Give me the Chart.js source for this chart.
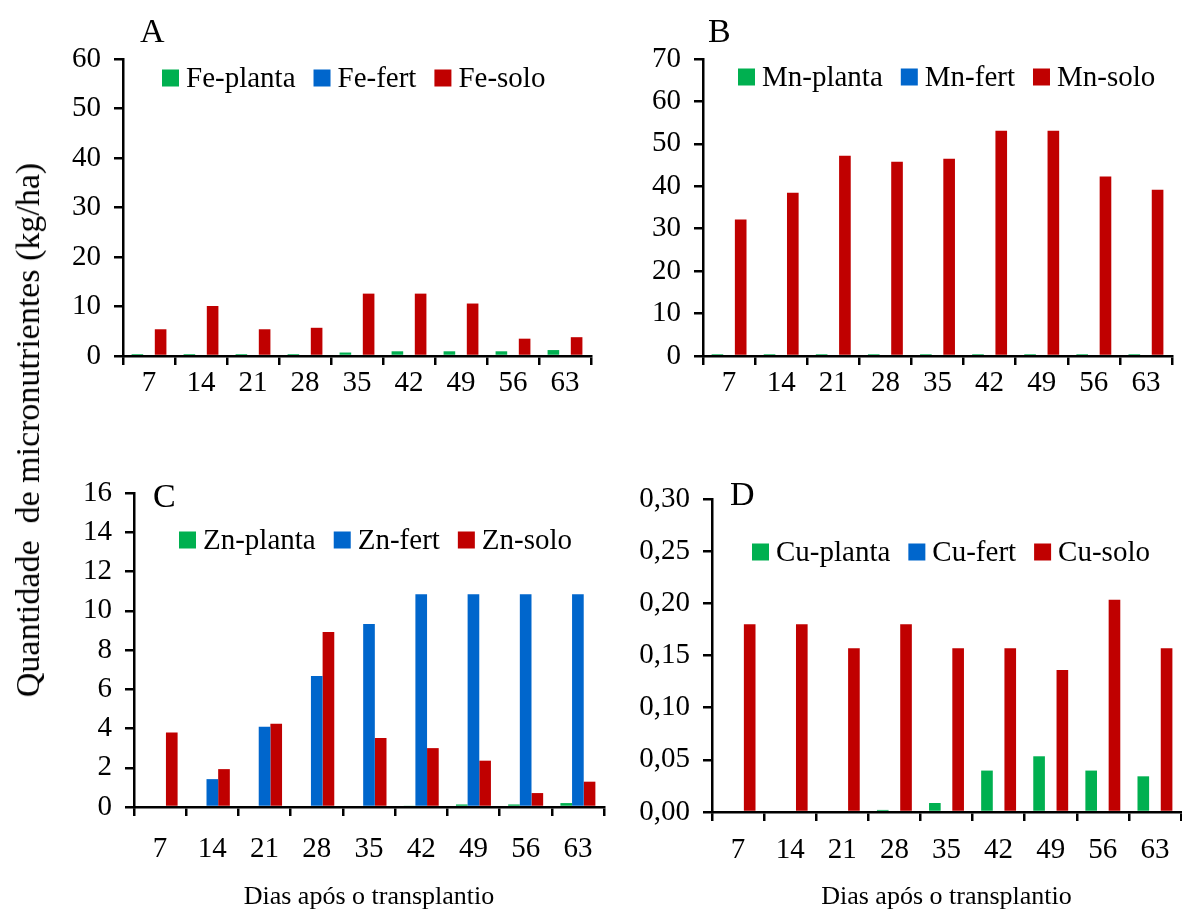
<!DOCTYPE html>
<html lang="pt">
<head>
<meta charset="utf-8">
<title>Micronutrientes</title>
<script src="https://cdn.jsdelivr.net/npm/chart.js@4.4.1/dist/chart.umd.min.js"></script>
<style>
  html, body { margin: 0; padding: 0; background: #fff; }
  #wrap { position: relative; width: 1182px; height: 916px; overflow: hidden; font-family: 'Liberation Serif', serif; }
  .panel { position: absolute; }
  #ytitle {
    position: absolute; left: 28px; top: 430px;
    transform: translate(-50%, -50%) rotate(-90deg);
    white-space: pre; font-size: 34px; color: #000; line-height: 1;
  }
</style>
</head>
<body>
<div id="wrap">
  <div class="panel" style="left:0;top:0;width:600px;height:400px"><canvas id="chartA" width="600" height="400"></canvas></div>
  <div class="panel" style="left:600px;top:0;width:582px;height:400px"><canvas id="chartB" width="582" height="400"></canvas></div>
  <div class="panel" style="left:0;top:430px;width:610px;height:486px"><canvas id="chartC" width="610" height="486"></canvas></div>
  <div class="panel" style="left:600px;top:430px;width:582px;height:486px"><canvas id="chartD" width="582" height="486"></canvas></div>
  <div id="ytitle">Quantidade  de micronutrientes (kg/ha)</div>
</div>
<script>
// dias após o transplantio
const days = ['7', '14', '21', '28', '35', '42', '49', '56', '63'];

// A - Fe
const fePlanta = [0.4, 0.4, 0.4, 0.4, 0.7, 0.95, 0.95, 0.95, 1.2];
const feFert = [0, 0, 0, 0, 0, 0, 0, 0, 0];
const feSolo = [5.4, 10.1, 5.4, 5.7, 12.6, 12.6, 10.6, 3.5, 3.8];

// B - Mn
const mnPlanta = [0.45, 0.45, 0.45, 0.45, 0.45, 0.45, 0.45, 0.45, 0.45];
const mnFert = [0, 0, 0, 0, 0, 0, 0, 0, 0];
const mnSolo = [32.2, 38.5, 47.2, 45.8, 46.5, 53.1, 53.1, 42.3, 39.2];

// C - Zn
const znPlanta = [0, 0, 0, 0, 0, 0.07, 0.13, 0.13, 0.2];
const znFert = [0, 1.42, 4.09, 6.68, 9.33, 10.84, 10.84, 10.84, 10.84];
const znSolo = [3.8, 1.93, 4.24, 8.92, 3.51, 3.0, 2.36, 0.71, 1.29];

// D - Cu
const cuPlanta = [0, 0, 0, 0.002, 0.0086, 0.0397, 0.0534, 0.0397, 0.0342];
const cuFert = [0, 0, 0, 0, 0, 0, 0, 0, 0];
const cuSolo = [0.180, 0.180, 0.157, 0.180, 0.157, 0.157, 0.136, 0.2035, 0.157];

// eixo y
const yMaxA = 60, yStepA = 10;
const yMaxB = 70, yStepB = 10;
const yMaxC = 16, yStepC = 2;
const yMaxD = 0.30, yStepD = 0.05;

const GREEN = '#00B050';
const BLUE = '#0066CC';
const RED = '#C00000';
const FONT = "'Liberation Serif', 'Times New Roman', serif";

// letra do painel (A, B, C, D)
const panelLetter = {
  id: 'panelLetter',
  afterDraw(chart, args, opts) {
    const ctx = chart.ctx;
    ctx.save();
    ctx.font = '34px ' + FONT;
    ctx.fillStyle = '#000';
    ctx.textBaseline = 'alphabetic';
    ctx.fillText(opts.text, opts.x, opts.y);
    ctx.restore();
  }
};

// legenda dentro da área do gráfico
const boxLegend = {
  id: 'boxLegend',
  afterDraw(chart, args, opts) {
    const ctx = chart.ctx;
    ctx.save();
    ctx.font = '29px ' + FONT;
    ctx.textBaseline = 'middle';
    let x = opts.x;
    chart.data.datasets.forEach(ds => {
      ctx.fillStyle = ds.backgroundColor;
      ctx.fillRect(x, opts.y - 8.5, 17, 17);
      x += 17 + 7;
      ctx.fillStyle = '#000';
      ctx.fillText(ds.label, x, opts.y + 1);
      x += ctx.measureText(ds.label).width + 18;
    });
    ctx.restore();
  }
};

function makeChart(id, names, planta, fert, solo, p) {
  const fmt = p.decimals ? (v => v.toFixed(p.decimals).replace('.', ',')) : (v => v);
  return new Chart(document.getElementById(id), {
    type: 'bar',
    data: {
      labels: days,
      datasets: [
        { label: names[0], data: planta, backgroundColor: GREEN },
        { label: names[1], data: fert, backgroundColor: BLUE },
        { label: names[2], data: solo, backgroundColor: RED }
      ]
    },
    options: {
      responsive: false,
      animation: false,
      categoryPercentage: 0.67,
      barPercentage: 1.0,
      layout: { padding: { top: p.padTop, right: p.padRight, left: 0, bottom: 0 } },
      scales: {
        x: {
          z: 1,
          grid: { display: true, drawOnChartArea: false, drawTicks: true, tickLength: 9, color: '#000', lineWidth: 2.5, offset: true },
          border: { display: true, color: '#000', width: 2.5 },
          ticks: { color: '#000', font: { family: FONT, size: 29 }, padding: p.xPad, maxRotation: 0 },
          title: {
            display: !!p.xTitle,
            text: 'Dias após o transplantio',
            color: '#000',
            font: { family: FONT, size: 26 },
            padding: { top: 0, bottom: 3 }
          },
          afterFit: s => { s.height = p.xHeight; }
        },
        y: {
          z: 1,
          min: 0,
          max: p.yMax,
          ticks: { stepSize: p.yStep, color: '#000', font: { family: FONT, size: 29 }, padding: 13, callback: fmt },
          grid: { display: true, drawOnChartArea: false, drawTicks: true, tickLength: 9, color: '#000', lineWidth: 2.5 },
          border: { display: true, color: '#000', width: 2.5 },
          afterFit: s => { s.width = p.yWidth; }
        }
      },
      plugins: {
        legend: { display: false },
        tooltip: { enabled: false },
        panelLetter: { text: p.letter, x: p.lx, y: p.ly },
        boxLegend: { x: p.gx, y: p.gy }
      }
    },
    plugins: [panelLetter, boxLegend]
  });
}

document.addEventListener('DOMContentLoaded', () => {
  makeChart('chartA', ['Fe-planta', 'Fe-fert', 'Fe-solo'], fePlanta, feFert, feSolo,
    { yMax: yMaxA, yStep: yStepA, yWidth: 123, padTop: 59, padRight: 9, xHeight: 44, xPad: 1,
      letter: 'A', lx: 140, ly: 42, gx: 162, gy: 78 });
  makeChart('chartB', ['Mn-planta', 'Mn-fert', 'Mn-solo'], mnPlanta, mnFert, mnSolo,
    { yMax: yMaxB, yStep: yStepB, yWidth: 103, padTop: 59, padRight: 10, xHeight: 44, xPad: 1,
      letter: 'B', lx: 108, ly: 42, gx: 138, gy: 77 });
  makeChart('chartC', ['Zn-planta', 'Zn-fert', 'Zn-solo'], znPlanta, znFert, znSolo,
    { yMax: yMaxC, yStep: yStepC, yWidth: 134, padTop: 63, padRight: 6, xHeight: 109, xPad: 16, xTitle: true,
      letter: 'C', lx: 153, ly: 77, gx: 179, gy: 110 });
  makeChart('chartD', ['Cu-planta', 'Cu-fert', 'Cu-solo'], cuPlanta, cuFert, cuSolo,
    { yMax: yMaxD, yStep: yStepD, yWidth: 112, padTop: 69, padRight: 1, xHeight: 104, xPad: 12, xTitle: true, decimals: 2,
      letter: 'D', lx: 130, ly: 75, gx: 152, gy: 122 });
});
</script>
</body>
</html>
